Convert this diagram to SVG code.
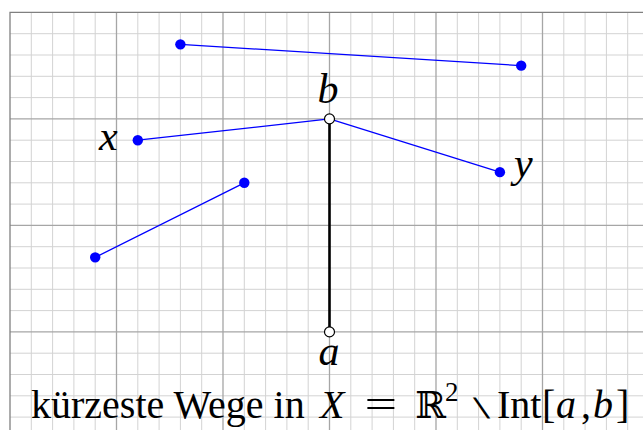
<svg xmlns="http://www.w3.org/2000/svg" width="643" height="430" viewBox="0 0 643 430">
<style>
.minor{stroke:#d3d3d3;stroke-width:1;fill:none}
.major{stroke:#a6a6a6;stroke-width:1.3;fill:none}
.border{stroke:#808080;stroke-width:1.3;fill:none}
.path{stroke:#0000ff;stroke-width:1.3;fill:none}
.seg{stroke:#000;stroke-width:2.6;fill:none}
.dot{fill:#0000ff}
.end{fill:#fff;stroke:#000;stroke-width:1.2}
.lbl{font-family:"Liberation Serif","Times New Roman",serif;font-style:italic;font-size:42px;fill:#000}
.cap{font-family:"Liberation Serif","Times New Roman",serif;font-size:40px;fill:#000}
.sm{font-family:"DejaVu Sans",sans-serif;font-weight:200;font-size:30px;fill:#000}
</style>
<rect width="643" height="430" fill="#fff"/>
<g id="grid">
<path class="minor" d="M31.3 12.4V430M52.6 12.4V430M73.9 12.4V430M95.2 12.4V430M137.8 12.4V430M159.1 12.4V430M180.4 12.4V430M201.7 12.4V430M244.3 12.4V430M265.6 12.4V430M286.9 12.4V430M308.2 12.4V430M350.8 12.4V430M372.1 12.4V430M393.4 12.4V430M414.7 12.4V430M457.3 12.4V430M478.6 12.4V430M499.9 12.4V430M521.2 12.4V430M563.8 12.4V430M585.1 12.4V430M606.4 12.4V430M627.7 12.4V430"/>
<path class="minor" d="M10 33.7H643M10 55H643M10 76.3H643M10 97.6H643M10 140.2H643M10 161.5H643M10 182.8H643M10 204.1H643M10 246.7H643M10 268H643M10 289.3H643M10 310.6H643M10 353.2H643M10 374.5H643M10 395.8H643M10 417.1H643"/>
<path class="major" d="M116.5 12.4V430M223 12.4V430M329.5 12.4V430M436 12.4V430M542.5 12.4V430M10 118.9H643M10 225.4H643M10 331.9H643"/>
<path class="border" d="M10 430V12.4H643"/>
</g>
<g id="connectors">
<line class="path" x1="180.4" y1="44.35" x2="521.2" y2="65.65"/>
<line class="path" x1="137.8" y1="140.2" x2="329.5" y2="118.9"/>
<line class="path" x1="329.5" y1="118.9" x2="499.9" y2="172.15"/>
<line class="path" x1="244.3" y1="182.8" x2="95.2" y2="257.35"/>
<line class="seg" x1="329.5" y1="118.9" x2="329.5" y2="331.9"/>
</g>
<g id="p1"><circle class="dot" cx="180.4" cy="44.35" r="5.2"/></g>
<g id="p2"><circle class="dot" cx="521.2" cy="65.65" r="5.2"/></g>
<g id="x"><circle class="dot" cx="137.8" cy="140.2" r="5.2"/><text class="lbl" x="99" y="149.5">x</text></g>
<g id="y"><circle class="dot" cx="499.9" cy="172.15" r="5.2"/><text class="lbl" x="514" y="177">y</text></g>
<g id="p5"><circle class="dot" cx="244.3" cy="182.8" r="5.2"/></g>
<g id="p6"><circle class="dot" cx="95.2" cy="257.35" r="5.2"/></g>
<g id="b"><circle class="end" cx="329.5" cy="118.9" r="5"/><text class="lbl" x="328" y="103" text-anchor="middle">b</text></g>
<g id="a"><circle class="end" cx="329.5" cy="331.9" r="5"/><text class="lbl" x="329" y="365" text-anchor="middle">a</text></g>
<g id="caption">
<text class="cap" y="418"><tspan x="31">kürzeste Wege in</tspan><tspan x="320" font-style="italic">X</tspan></text>
<text class="cap" transform="translate(366,418) scale(1.45,1)" x="-1" y="0">=</text>
<text class="cap" y="418"><tspan x="415" font-family="DejaVu Serif" font-size="37">ℝ</tspan><tspan x="445" y="401" font-size="27">2</tspan></text>
<text class="sm" transform="translate(461,417) scale(1.9,0.85)" x="0" y="0">∖</text>
<text class="cap" y="418"><tspan x="497">Int</tspan><tspan x="542">[</tspan><tspan x="556" font-style="italic">a</tspan><tspan x="581">,</tspan><tspan x="593" font-style="italic">b</tspan><tspan x="616">]</tspan></text>
</g>
</svg>
